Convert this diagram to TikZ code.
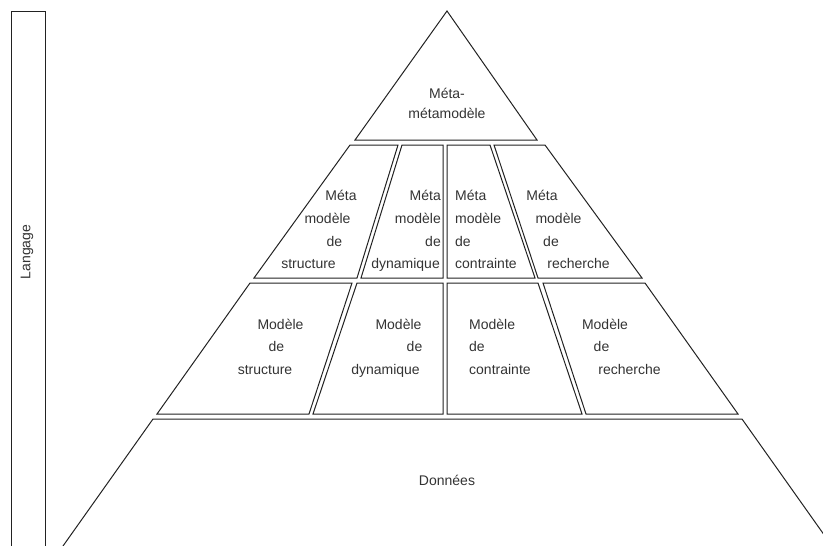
\documentclass[tikz,border=0pt]{standalone}
\usepackage{fontspec}
\setmainfont{Liberation Sans}
\definecolor{ink}{HTML}{222222}
\definecolor{txt}{HTML}{333333}
\begin{document}
\begin{tikzpicture}[x=1pt,y=-1pt,
  part/.style={draw=ink,line width=1pt,line join=miter},
  lbl/.style={text=txt,font=\fontsize{14}{22}\selectfont,inner sep=0pt,anchor=base},
  ctr/.style={lbl,align=center,font=\fontsize{14}{20}\selectfont,anchor=center}]
\useasboundingbox (0,0) rectangle (823,546);
\clip (0,0) rectangle (823,546);

% language bar
\draw[part] (11,550) -- (11,11) -- (45,11) -- (45,550);
\node[lbl,anchor=center,rotate=90] (langage) at (27,252) {Langage};

% top: meta-metamodel
\draw[part] (447,11) -- (537,140) -- (355,140) -- cycle;
\node[ctr] (mmm) at (447,103) {Méta-\\métamodèle};

% metamodel row
\draw[part] (350,145) -- (398,145) -- (357,278) -- (254,278) -- cycle;
\draw[part] (402,145) -- (443,145) -- (443,278) -- (361,278) -- cycle;
\draw[part] (447,145) -- (490,145) -- (535,278) -- (447,278) -- cycle;
\draw[part] (494,145) -- (545,145) -- (642,278) -- (538,278) -- cycle;

\node[lbl] (ms1) at (341,200) {Méta};
\node[lbl] (ms2) at (327.5,223) {modèle};
\node[lbl] (ms3) at (334.5,246) {de};
\node[lbl] (ms4) at (308.5,268) {structure};

\node[lbl,anchor=base east] (md1) at (441,200) {Méta};
\node[lbl,anchor=base east] (md2) at (441,223) {modèle};
\node[lbl,anchor=base east] (md3) at (441,246) {de};
\node[lbl,anchor=base east] (md4) at (440,268) {dynamique};

\node[lbl,anchor=base west] (mc1) at (455,200) {Méta};
\node[lbl,anchor=base west] (mc2) at (455,223) {modèle};
\node[lbl,anchor=base west] (mc3) at (455,246) {de};
\node[lbl,anchor=base west] (mc4) at (455,268) {contrainte};

\node[lbl] (mr1) at (542,200) {Méta};
\node[lbl] (mr2) at (558.5,223) {modèle};
\node[lbl] (mr3) at (551,246) {de};
\node[lbl] (mr4) at (578.5,268) {recherche};

% model row
\draw[part] (250,283) -- (352,283) -- (309,414) -- (157,414) -- cycle;
\draw[part] (357,283) -- (443,283) -- (443,414) -- (313,414) -- cycle;
\draw[part] (447,283) -- (538,283) -- (582,414) -- (447,414) -- cycle;
\draw[part] (543,283) -- (645,283) -- (738,414) -- (586,414) -- cycle;

\node[lbl] (s1) at (280.5,329) {Modèle};
\node[lbl] (s2) at (276.5,351) {de};
\node[lbl] (s3) at (265,374) {structure};

\node[lbl] (d1) at (398.5,329) {Modèle};
\node[lbl] (d2) at (414.5,351) {de};
\node[lbl] (d3) at (385.5,374) {dynamique};

\node[lbl,anchor=base west] (c1) at (469,329) {Modèle};
\node[lbl,anchor=base west] (c2) at (469,351) {de};
\node[lbl,anchor=base west] (c3) at (469,374) {contrainte};

\node[lbl] (r1) at (605,329) {Modèle};
\node[lbl] (r2) at (601.5,351) {de};
\node[lbl] (r3) at (629.5,374) {recherche};

% data layer
\draw[part] (63,546) -- (153,419) -- (742,419) -- (832,546);
\node[lbl,anchor=center] (donnees) at (447,480) {Données};
\end{tikzpicture}
\end{document}
